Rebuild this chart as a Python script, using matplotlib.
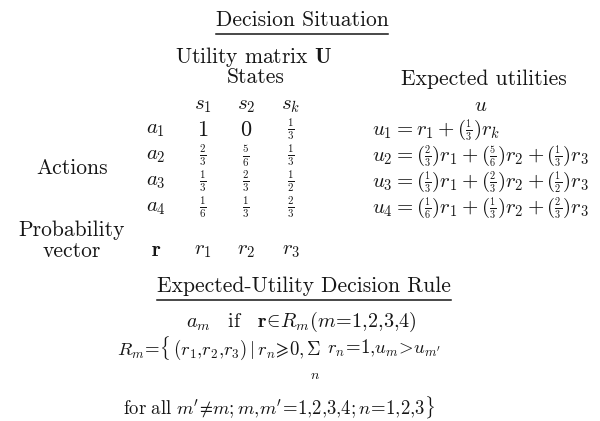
import matplotlib
matplotlib.use('Agg')
import matplotlib.pyplot as plt
from matplotlib.lines import Line2D

plt.rcParams['mathtext.fontset'] = 'cm'
plt.rcParams['font.family'] = ['cmr10', 'DejaVu Serif']
plt.rcParams['axes.unicode_minus'] = False

W, H = 600, 421
INK = '#161616'

# table content
states = ['s_1', 's_2', 's_k']
actions = ['a_1', 'a_2', 'a_3', 'a_4']
utility = [
    ['1', '0', '1/3'],
    ['2/3', '5/6', '1/3'],
    ['1/3', '2/3', '1/2'],
    ['1/6', '1/3', '2/3'],
]
prob_vector = ['r_1', 'r_2', 'r_3']
# variable names as printed in each expected-utility line (row 1 says r_k)
eq_vars = [
    ['r_1', 'r_2', 'r_k'],
    ['r_1', 'r_2', 'r_3'],
    ['r_1', 'r_2', 'r_3'],
    ['r_1', 'r_2', 'r_3'],
]
# decision rule, the R_m line is split at the summation sign
rule_if = r'$a_m\quad\mathrm{if}\quad\mathbf{r}\!\in\!R_m(m\!=\!1{,}2{,}3{,}4)$'
rule_set_left = (r'$R_m\!=\!\{\,(r_1{,}r_2{,}r_3)\,\vert\,r_n\!\geqslant\!0{,}'
                 r'\,\Sigma$')
rule_set_right = r'$r_n\!=\!1{,}u_m\!>\!u_{m^\prime}$'
rule_sum_index = '$n$'
rule_for_all = (r'$\mathrm{for\ all}\ m^\prime\!\neq\!m{;}m{,}m^\prime\!=\!1{,}2{,}3{,}4'
                r'{;}n\!=\!1{,}2{,}3\}$')


def small_frac(v):
    a, b = v.split('/')
    return r'\genfrac{}{}{0.8}{2}{%s}{%s}' % (a, b)


def cell(v):
    if '/' in v:
        return '$%s$' % small_frac(v)
    return '$%s$' % v


def expected(i):
    terms = []
    for v, r in zip(utility[i], eq_vars[i]):
        if v == '0':
            continue
        if v == '1':
            terms.append(r)
        else:
            terms.append('(%s)%s' % (small_frac(v), r))
    return '$u_%d=%s$' % (i + 1, '+'.join(terms))


fig = plt.figure(figsize=(W / 100, H / 100), dpi=100)
renderer = fig.canvas.get_renderer()


def put(x, y, s, size=15, ha='center', **kw):
    return fig.text(x / W, 1 - y / H, s, fontsize=size, ha=ha, va='center',
                    color=INK, **kw)


def width_px(t):
    return t.get_window_extent(renderer).width


def underline(t, dy):
    bb = t.get_window_extent(renderer).transformed(fig.transFigure.inverted())
    y = bb.y0 - dy / H
    fig.add_artist(Line2D([bb.x0, bb.x1], [y, y], color=INK, lw=1.1,
                          transform=fig.transFigure))


t = put(302, 20, 'Decision Situation', size=15.5)
underline(t, 4)
put(253, 57, r'Utility matrix $\mathbf{U}$', size=15.5)
put(256, 77, 'States', size=15.5)
put(484, 79, 'Expected utilities', size=15.5)

col_x = [203, 246, 291]
row_y = [130, 156, 182, 208]
for x, s in zip(col_x, states):
    put(x, 106, '$%s$' % s)
put(481, 106, '$u$')

put(72, 168, 'Actions', size=15.5)
for i, a in enumerate(actions):
    put(156, row_y[i], '$%s$' % a)
    for x, v in zip(col_x, utility[i]):
        put(x, row_y[i], cell(v), size=16)
    put(372, row_y[i], expected(i), ha='left')

put(72, 230, 'Probability', size=15.5)
put(72, 251, 'vector', size=15.5)
put(156, 251, r'$\mathbf{r}$')
for x, r in zip(col_x, prob_vector):
    put(x, 251, '$%s$' % r)

t = put(304, 286, 'Expected-Utility Decision Rule', size=15.5)
underline(t, 4)
put(301, 322, rule_if, size=14.5)

# R_m line: left part ends with the sum sign, index n goes beneath it
left = put(0, 348, rule_set_left, size=13.5, ha='left')
right = put(0, 348, rule_set_right, size=13.5, ha='left')
wl, wr, gap = width_px(left), width_px(right), 6
x0 = 279 - (wl + gap + wr) / 2
left.set_x(x0 / W)
right.set_x((x0 + wl + gap) / W)
put(x0 + wl - 6, 376, rule_sum_index, size=10)

put(279, 408, rule_for_all, size=13.5)

fig.savefig('out.png', dpi=100, facecolor='white')
